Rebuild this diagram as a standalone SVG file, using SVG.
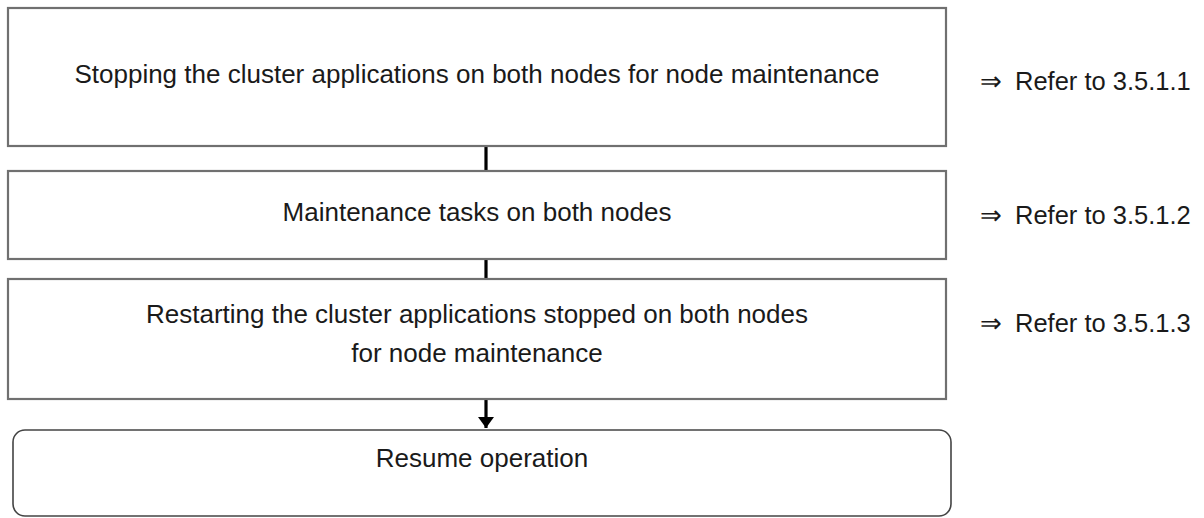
<svg xmlns="http://www.w3.org/2000/svg" width="1204" height="518" viewBox="0 0 1204 518">
<defs>
<style>
.box{fill:#fff;stroke:#707070;stroke-width:2.2}
.rbox{fill:#fff;stroke:#444;stroke-width:1.6}
.t{font-family:"Liberation Sans",Arial,sans-serif;font-size:26px;fill:#1a1a1a}
.r{font-size:25.5px}
.m{text-anchor:middle}
.c{stroke:#000;stroke-width:3.2;fill:none}
</style>
<marker id="ah" markerUnits="userSpaceOnUse" markerWidth="13" markerHeight="18" refX="11" refY="8" orient="auto">
<path d="M0,0 L11,8 L0,16 Z" fill="#000"/>
</marker>
</defs>
<rect width="1204" height="518" fill="#fff"/>
<g id="connectors">
<line class="c" x1="486" y1="147" x2="486" y2="170"/>
<line class="c" x1="486" y1="260" x2="486" y2="278"/>
<line class="c" x1="486" y1="400" x2="486" y2="428" marker-end="url(#ah)"/>
</g>
<g id="step1">
<rect class="box" x="8" y="8" width="938" height="138"/>
<text class="t m" x="477" y="83">Stopping the cluster applications on both nodes for node maintenance</text>
</g>
<g id="ref1"><text class="t r" x="980" y="90">⇒<tspan x="1015">Refer to 3.5.1.1</tspan></text></g>
<g id="step2">
<rect class="box" x="8" y="171" width="938" height="88"/>
<text class="t m" x="477" y="221">Maintenance tasks on both nodes</text>
</g>
<g id="ref2"><text class="t r" x="980" y="224">⇒<tspan x="1015">Refer to 3.5.1.2</tspan></text></g>
<g id="step3">
<rect class="box" x="8" y="279" width="938" height="120"/>
<text class="t m" x="477" y="323">Restarting the cluster applications stopped on both nodes</text>
<text class="t m" x="477" y="362">for node maintenance</text>
</g>
<g id="ref3"><text class="t r" x="980" y="332">⇒<tspan x="1015">Refer to 3.5.1.3</tspan></text></g>
<g id="resume">
<rect class="rbox" x="13" y="430" width="938" height="86" rx="12" ry="12"/>
<text class="t m" x="482" y="467">Resume operation</text>
</g>
</svg>
